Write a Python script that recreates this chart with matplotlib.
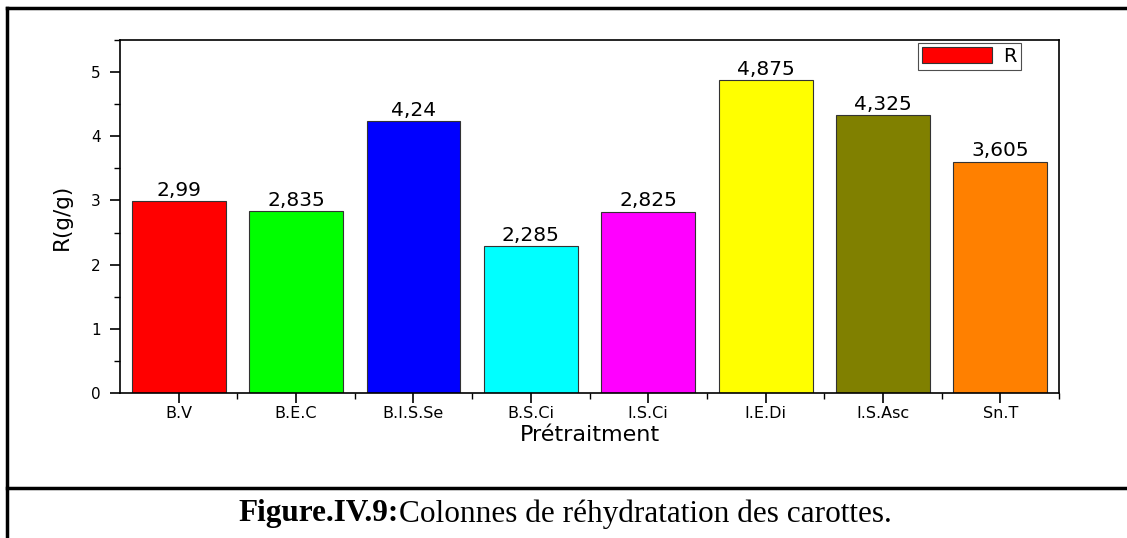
import matplotlib
matplotlib.use("Agg")
import matplotlib.pyplot as plt
from matplotlib.lines import Line2D
from matplotlib.ticker import MultipleLocator

categories = ["B.V", "B.E.C", "B.I.S.Se", "B.S.Ci", "I.S.Ci", "I.E.Di", "I.S.Asc", "Sn.T"]
values = [2.99, 2.835, 4.24, 2.285, 2.825, 4.875, 4.325, 3.605]
value_labels = ["2,99", "2,835", "4,24", "2,285", "2,825", "4,875", "4,325", "3,605"]
colors = ["#FF0000", "#00FF00", "#0000FF", "#00FFFF", "#FF00FF", "#FFFF00", "#808000", "#FF8000"]

plt.rcParams["font.family"] = ["DejaVu Sans"]

fig = plt.figure(figsize=(11.27, 5.38), dpi=100)
fig.patch.set_facecolor("white")
ax = fig.add_axes([0.1065, 0.2695, 0.8332, 0.6562])

x = list(range(len(categories)))
ax.bar(x, values, width=0.8, color=colors, edgecolor="#333333", linewidth=0.8, label="R")
for xi, v, lab in zip(x, values, value_labels):
    ax.text(xi, v + 0.02, lab, ha="center", va="bottom", fontsize=14.5)

ax.set_xlim(-0.5, 7.5)
ax.set_ylim(0, 5.5)
ax.set_xticks(x)
ax.set_xticklabels(categories, fontsize=11.5)
ax.set_xticks([i + 0.5 for i in x[:-1]] + [7.5], minor=True)
ax.yaxis.set_major_locator(MultipleLocator(1))
ax.yaxis.set_minor_locator(MultipleLocator(0.5))
ax.tick_params(axis="y", labelsize=11, pad=7)
ax.tick_params(axis="x", pad=2)
ax.tick_params(which="major", direction="out", length=7, width=1.2)
ax.tick_params(which="minor", direction="out", length=4, width=1.0)
for s in ax.spines.values():
    s.set_linewidth(1.2)

ax.set_ylabel("R(g/g)", fontsize=15.5, labelpad=14)
ax.set_xlabel("Prétraitment", fontsize=16, labelpad=3)

leg = ax.legend(loc="upper right", bbox_to_anchor=(0.9595, 0.9915), fontsize=14,
                frameon=True, fancybox=False, handlelength=3.6, handleheight=0.9,
                borderpad=0.2, handletextpad=0.6, borderaxespad=0)
leg.get_frame().set_edgecolor("#222222")
leg.get_frame().set_linewidth(0.8)

# outer frame of the figure panel
lw = 2.5
fig.add_artist(Line2D([0.0062, 0.0062], [0.0, 0.985], transform=fig.transFigure, color="black", lw=lw))
fig.add_artist(Line2D([0.0062, 1.0], [0.985, 0.985], transform=fig.transFigure, color="black", lw=lw))
fig.add_artist(Line2D([0.0062, 1.0], [0.093, 0.093], transform=fig.transFigure, color="black", lw=lw))

fig.text(0.354, 0.045, "Figure.IV.9:", ha="right", va="center", fontsize=22.5,
         family="Liberation Serif", fontweight="bold")
fig.text(0.354, 0.045, "Colonnes de réhydratation des carottes.", ha="left", va="center",
         fontsize=22.5, family="Liberation Serif")

fig.savefig("out.png", dpi=100, facecolor="white")
